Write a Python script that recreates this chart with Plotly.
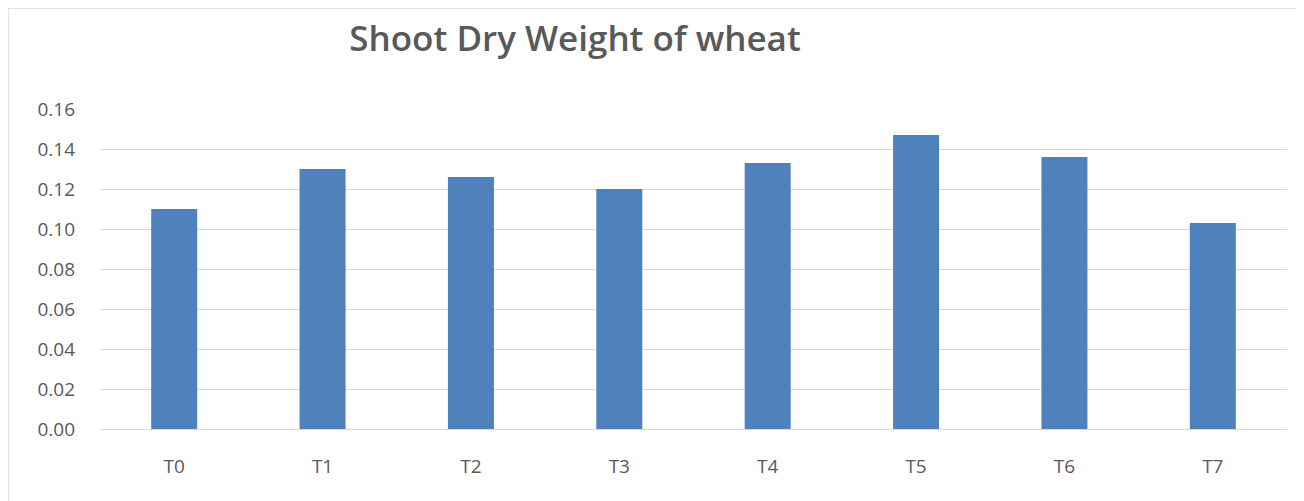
import plotly.graph_objects as go

categories = ["T0", "T1", "T2", "T3", "T4", "T5", "T6", "T7"]
shoot_dry_weight = [0.110, 0.130, 0.126, 0.120, 0.133, 0.147, 0.136, 0.103]
y_ticks = [0.00, 0.02, 0.04, 0.06, 0.08, 0.10, 0.12, 0.14, 0.16]
y_tick_labels = ["0.00", "0.02", "0.04", "0.06", "0.08", "0.10", "0.12", "0.14", "0.16"]

W, H = 1296, 493
L, R, T, B = 92, 17, 101, 72
plot_w = W - L - R
plot_h = H - T - B

fig = go.Figure(
    go.Bar(
        x=categories,
        y=shoot_dry_weight,
        marker=dict(color="#4F81BD", line=dict(width=0)),
    )
)

fig.update_layout(
    width=W,
    height=H,
    margin=dict(l=L, r=R, t=T, b=B),
    paper_bgcolor="white",
    plot_bgcolor="white",
    bargap=0.69,
    showlegend=False,
    font=dict(family="Open Sans", color="#595959", size=19),
    title=dict(
        text="Shoot Dry Weight of wheat",
        x=(575 - 8) / W,
        xanchor="center",
        y=1 - 31 / H,
        yanchor="middle",
        font=dict(family="Open Sans", size=35, color="#595959", weight=600),
    ),
    xaxis=dict(
        showgrid=False,
        showline=False,
        ticks="",
        ticklabelstandoff=24,
        tickfont=dict(size=19, color="#595959"),
    ),
    yaxis=dict(
        range=[0, 0.16],
        tickvals=y_ticks,
        ticktext=y_tick_labels,
        showgrid=True,
        gridcolor="#D9D9D9",
        gridwidth=1,
        zeroline=True,
        zerolinecolor="#D9D9D9",
        zerolinewidth=1,
        showline=False,
        ticks="",
        ticklabelstandoff=24,
        tickfont=dict(size=19, color="#595959"),
    ),
    shapes=[
        dict(
            type="rect",
            xref="paper",
            yref="paper",
            x0=-L / plot_w,
            x1=1.5,
            y0=-1.0,
            y1=1 + T / plot_h,
            line=dict(color="#D9D9D9", width=1.5),
            fillcolor="rgba(0,0,0,0)",
            layer="below",
        )
    ],
)

fig.write_html("out.html")
